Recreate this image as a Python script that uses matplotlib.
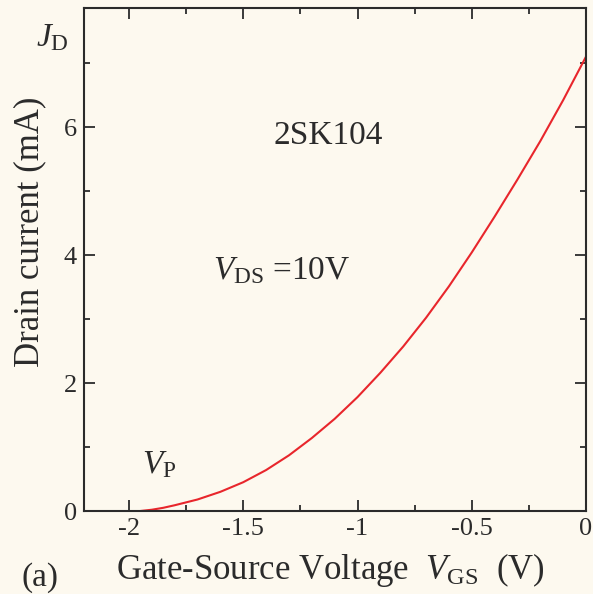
import matplotlib
matplotlib.use("Agg")
import matplotlib.pyplot as plt
from matplotlib.ticker import MultipleLocator

# Data
vgs = [-1.95, -1.90, -1.85, -1.80, -1.70, -1.60, -1.50, -1.40, -1.30, -1.20,
       -1.10, -1.00, -0.90, -0.80, -0.70, -0.60, -0.50, -0.40, -0.30, -0.20,
       -0.10, 0.0]
id_ma = [0.0, 0.02, 0.05, 0.09, 0.18, 0.30, 0.45, 0.64, 0.87, 1.14,
         1.44, 1.78, 2.16, 2.57, 3.02, 3.51, 4.04, 4.60, 5.18, 5.78,
         6.42, 7.10]
xticks = [-2, -1.5, -1, -0.5, 0]
xticklabels = ["-2", "-1.5", "-1", "-0.5", "0"]
yticks = [0, 2, 4, 6]
yticklabels = ["0", "2", "4", "6"]

plt.rcParams['font.family'] = ['Liberation Serif', 'DejaVu Serif']
plt.rcParams['mathtext.fontset'] = 'custom'
plt.rcParams['mathtext.rm'] = 'Liberation Serif'
plt.rcParams['mathtext.it'] = 'Liberation Serif:italic'

bg = '#FDF9EF'
ink = '#2b2b2b'
fig = plt.figure(figsize=(5.93, 5.94), dpi=100, facecolor=bg)
ax = fig.add_axes([84/593, 1-511/594, (586-84)/593, (511-8)/594], facecolor=bg)

ax.plot(vgs, id_ma, color='#E8262C', lw=1.5, solid_joinstyle='round',
        solid_capstyle='round')

ax.set_xlim(-2.197, 0)
ax.set_ylim(0, 7.86)
ax.set_xticks(xticks)
ax.set_xticklabels(xticklabels)
ax.set_yticks(yticks)
ax.set_yticklabels(yticklabels)
ax.xaxis.set_minor_locator(MultipleLocator(0.25))
ax.yaxis.set_minor_locator(MultipleLocator(1))
ax.tick_params(which='both', direction='in', top=True, right=True,
               colors=ink, width=1.3, labelsize=19, pad=5)
ax.tick_params(which='major', length=8)
ax.tick_params(which='minor', length=4)
for s in ax.spines.values():
    s.set_color(ink)
    s.set_linewidth(1.5)

fs = 24
fig.text(30/593, 1-232/594, 'Drain current (mA)', rotation=90, ha='center', va='center',
         fontsize=25, color=ink)
fig.text(330/593, 1-570/594, r'Gate-Source Voltage  $V_{\mathrm{GS}}$  (V)',
         ha='center', va='center', fontsize=25, color=ink)
fig.text(40/593, 1-578/594, '(a)', ha='center', va='center', fontsize=fs, color=ink)
fig.text(52/593, 1-38/594, r'$J_{\mathrm{D}}$', ha='center', va='center', fontsize=fs, color=ink)
ax.text(-1.13, 5.87, '2SK104', ha='center', va='center', fontsize=fs, color=ink)
ax.text(-1.33, 3.75, r'$V_{\mathrm{DS}}$ =10V', ha='center', va='center', fontsize=fs,
        color=ink)
ax.text(-1.87, 0.72, r'$V_{\mathrm{P}}$', ha='center', va='center', fontsize=fs, color=ink)

fig.savefig('out.png', dpi=100, facecolor=bg)
